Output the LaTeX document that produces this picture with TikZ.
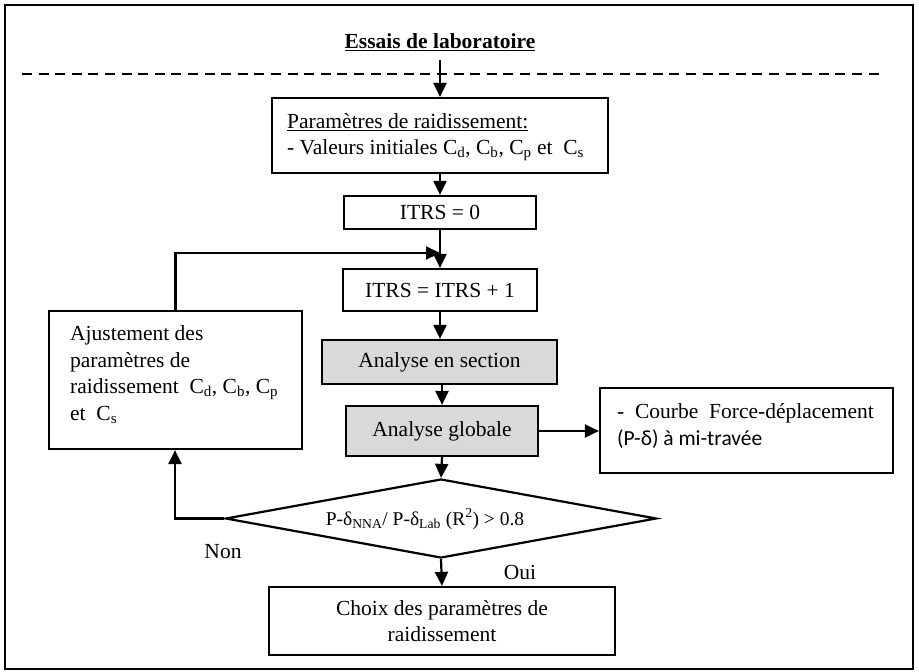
\documentclass[tikz,border=0pt]{standalone}
\usepackage{fontspec}
\setmainfont{Liberation Serif}
\newfontfamily\calib{Carlito}
\usetikzlibrary{arrows.meta,shapes.geometric}
\tikzset{
  box/.style={draw, line width=2.2pt, inner sep=0pt},
  gbox/.style={box, fill=black!15},
  arr/.style={line width=2.2pt, -{Triangle[length=14pt,width=13pt]}},
  txt/.style={inner sep=0pt, font=\fontsize{21.5}{26}\selectfont},
}
\newcommand{\sbs}[1]{\textsubscript{#1}}
\begin{document}
\begin{tikzpicture}[x=1pt,y=-1pt]
\useasboundingbox (0,0) rectangle (919,672);
\draw[line width=1.6pt] (5,5) rectangle (913,669);
% title
\node[txt, font=\fontsize{21.5}{26}\selectfont\bfseries] (title) at (440,42) {\underline{Essais de laboratoire}};
\draw[line width=1.6pt, dash pattern=on 10pt off 6.6pt] (22,74) -- (885,74);
% boxes
\node[box, minimum width=336pt, minimum height=75pt] (params) at (440,135.5) {};
\node[txt, anchor=base west] (p1) at (287,128) {\underline{Paramètres de raidissement:}};
\node[txt, anchor=base west] (p2) at (287,154) {- Valeurs initiales C\sbs{d}, C\sbs{b}, C\sbs{p} et~ C\sbs{s}};
\node[box, txt, minimum width=192pt, minimum height=33pt] (itrs0) at (440,212.5) {ITRS = 0};
\node[box, txt, minimum width=194pt, minimum height=42pt] (itrs1) at (440,290) {ITRS = ITRS + 1};
\node[gbox, txt, minimum width=235pt, minimum height=44pt] (section) at (439.5,362) {Analyse en section};
\node[gbox, txt, minimum width=192pt, minimum height=50pt] (globale) at (442,431) {Analyse globale};
\node[box, minimum width=293pt, minimum height=85pt] (courbe) at (746.5,430.5) {};
\node[txt, anchor=base west] (c1) at (617,418) {-~ Courbe~ Force-déplacement};
\node[txt, anchor=base west] (c2) at (617,445) {\calib (P-δ) à mi-travée};
\node[box, shape=diamond, minimum width=431pt, minimum height=79pt] (diam) at (441,518.5) {};
\node[txt, font=\fontsize{19.5}{23}\selectfont] (dtext) at (425,519) {P-δ\sbs{NNA}/ P-δ\sbs{Lab} (R\textsuperscript{2}) > 0.8};
\node[box, minimum width=346pt, minimum height=68pt] (choix) at (442,621) {};
\node[txt, align=center] (choixt) at (442,621) {Choix des paramètres de\\raidissement};
\node[box, minimum width=253pt, minimum height=138pt] (ajust) at (175.5,380) {};
\node[txt, anchor=base west] (a1) at (70,340) {Ajustement des};
\node[txt, anchor=base west] (a2) at (70,367) {paramètres de};
\node[txt, anchor=base west] (a3) at (70,393) {raidissement~ C\sbs{d}, C\sbs{b}, C\sbs{p}};
\node[txt, anchor=base west] (a4) at (70,420) {et~ C\sbs{s}};
\node[txt] (non) at (223,552) {Non};
\node[txt] (oui) at (520,572) {Oui};
% connectors
\coordinate (tstart) at (440,60);
\coordinate (join) at (440,253);
\coordinate (lcorner) at (175,518.5);
\draw[arr] (tstart) -- (params.north);
\draw[arr] (params.south) -- (itrs0.north);
\draw[arr] (itrs0.south) -- (itrs1.north);
\draw[arr] (ajust.north) |- (join);
\draw[arr] (itrs1.south) -- (itrs1.south |- section.north);
\draw[arr] (section.south -| globale.north) -- (globale.north);
\draw[arr] (globale.east) -- (courbe.west |- globale.east);
\draw[arr] (globale.south) -- (diam.north);
\draw[arr] (diam.south) -- (choix.north);
\draw[arr] (diam.west) -- (lcorner) -- (ajust.south -| lcorner);
\end{tikzpicture}
\end{document}
